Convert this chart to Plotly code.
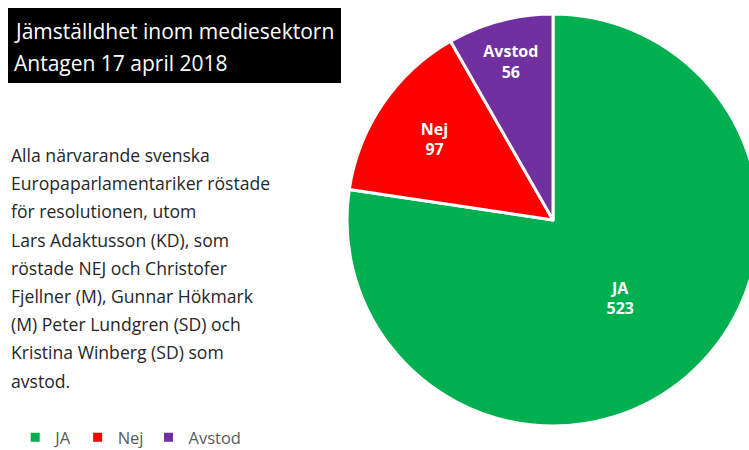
import plotly.graph_objects as go

# data
labels = ["JA", "Nej", "Avstod"]
votes = [523, 97, 56]
colors = ["#00B050", "#FF0000", "#7030A0"]

title_lines = ["Jämställdhet inom mediesektorn", "Antagen 17 april 2018"]
body_lines = [
    "Alla närvarande svenska",
    "Europaparlamentariker röstade",
    "för resolutionen, utom",
    "Lars Adaktusson (KD), som",
    "röstade NEJ och Christofer",
    "Fjellner (M), Gunnar Hökmark",
    "(M) Peter Lundgren (SD) och",
    "Kristina Winberg (SD) som",
    "avstod.",
]

# figure is a bit larger than the 749x450 window so the pie gets cut at the
# right edge and the legend sits low, like in the original
W, H = 760, 455
FONT = "Open Sans"


def px(x):
    return x / W


def py(y):
    # pixels from the top -> paper fraction
    return 1 - y / H


fig = go.Figure()
fig.add_trace(go.Pie(
    labels=labels,
    values=votes,
    sort=False,
    direction="clockwise",
    rotation=0,
    marker=dict(colors=colors, line=dict(color="white", width=3)),
    texttemplate="<b>%{label}<br>%{value}</b>",
    textposition="inside",
    insidetextorientation="horizontal",
    textfont=dict(family="Open Sans", size=16, color="white"),
    domain=dict(x=[px(553 - 206), px(553 + 206)],
                y=[py(220 + 206), py(220 - 206)]),
    hoverinfo="label+value+percent",
))

# black title box
fig.add_shape(type="rect", xref="paper", yref="paper",
              x0=px(8), x1=px(341), y0=py(83), y1=py(8),
              fillcolor="black", line=dict(width=0), layer="below")
for i, line in enumerate(title_lines):
    fig.add_annotation(text=line, xref="paper", yref="paper",
                       x=px(12), y=py(31 + 32 * i),
                       xanchor="left", yanchor="middle", showarrow=False,
                       font=dict(family=FONT, size=21, color="white"))

for i, line in enumerate(body_lines):
    fig.add_annotation(text=line, xref="paper", yref="paper",
                       x=px(9), y=py(155 + 28.2 * i),
                       xanchor="left", yanchor="middle", showarrow=False,
                       font=dict(family=FONT, size=17.6, color="#262626"))

fig.update_layout(
    width=W, height=H,
    margin=dict(l=0, r=0, t=0, b=0),
    paper_bgcolor="white",
    showlegend=True,
    legend=dict(orientation="h", x=0.02, y=0, xanchor="left", yanchor="bottom",
                font=dict(family=FONT, size=16.5, color="#595959"),
                itemwidth=30, traceorder="normal"),
)

fig.write_html(
    "out.html",
    config={"displayModeBar": False},
    post_script="document.body.style.margin='0';document.body.style.overflow='hidden';",
)
